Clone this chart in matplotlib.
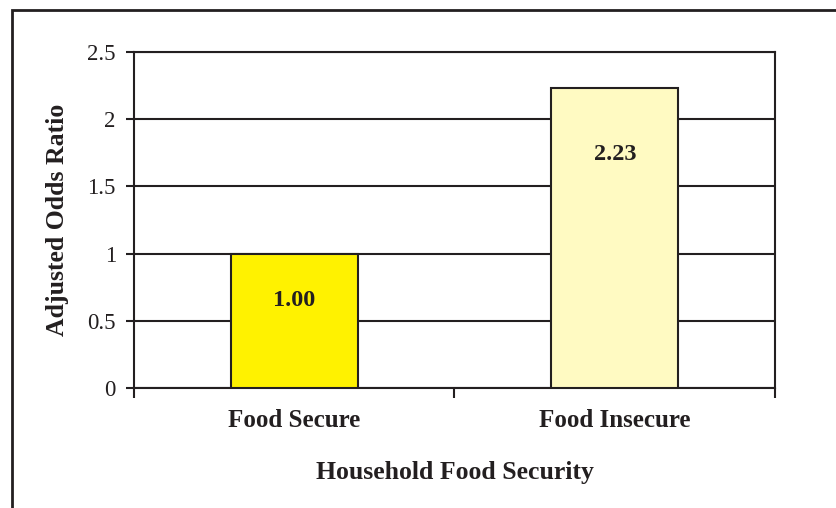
import matplotlib.pyplot as plt
from matplotlib.patches import Rectangle

plt.rcParams['font.family'] = ['Liberation Serif', 'DejaVu Serif']

categories = ['Food Secure', 'Food Insecure']
odds_ratio = [1.00, 2.23]
bar_colors = ['#fff200', '#fffac2']
label_y = [0.65, 1.74]   # where the value text sits inside each bar

fig = plt.figure(figsize=(8.37, 5.08), dpi=100)
ax = fig.add_axes([0.160, 0.236, 0.766, 0.662])

x = list(range(len(categories)))
ax.bar(x, odds_ratio, width=0.395, color=bar_colors, edgecolor='#231f20',
       linewidth=1.5, zorder=3)
for xi, v, ly in zip(x, odds_ratio, label_y):
    ax.text(xi, ly, '%.2f' % v, ha='center', va='center', fontsize=17.5,
            fontweight='bold', color='#231f20', zorder=4)

ax.set_xlim(-0.5, 1.5)
ax.set_ylim(0, 2.5)
ax.set_yticks([0, 0.5, 1, 1.5, 2, 2.5])
ax.set_yticklabels(['0', '0.5', '1', '1.5', '2', '2.5'])
ax.yaxis.grid(True, color='#231f20', linewidth=1.5, zorder=0)

# category boundaries get the tick marks, names sit between them
ax.set_xticks([-0.5, 0.5, 1.5])
ax.set_xticklabels([])
ax.set_xticks(x, minor=True)
ax.set_xticklabels(categories, minor=True, fontsize=18, fontweight='bold',
                   color='#231f20')
ax.tick_params(axis='x', which='minor', length=0, pad=15)
ax.tick_params(axis='x', which='major', length=7, width=1.5, color='#231f20')
ax.tick_params(axis='y', length=6, width=1.5, color='#231f20', labelsize=16.5,
               labelcolor='#231f20', pad=7)

for s in ax.spines.values():
    s.set_linewidth(1.5)
    s.set_color('#231f20')

ax.set_xlabel('Household Food Security', fontsize=18.5, fontweight='bold',
              color='#231f20', labelpad=21)
ax.set_ylabel('Adjusted Odds Ratio', fontsize=18.5, fontweight='bold',
              color='#231f20', labelpad=13)

# outer frame, running off the right and bottom edges
fig.patches.append(Rectangle((12 / 837, -0.2), 1.2, 0.2 + 498 / 508,
                             transform=fig.transFigure, fill=False,
                             edgecolor='#231f20', linewidth=2))

fig.savefig('out.png', dpi=100)
